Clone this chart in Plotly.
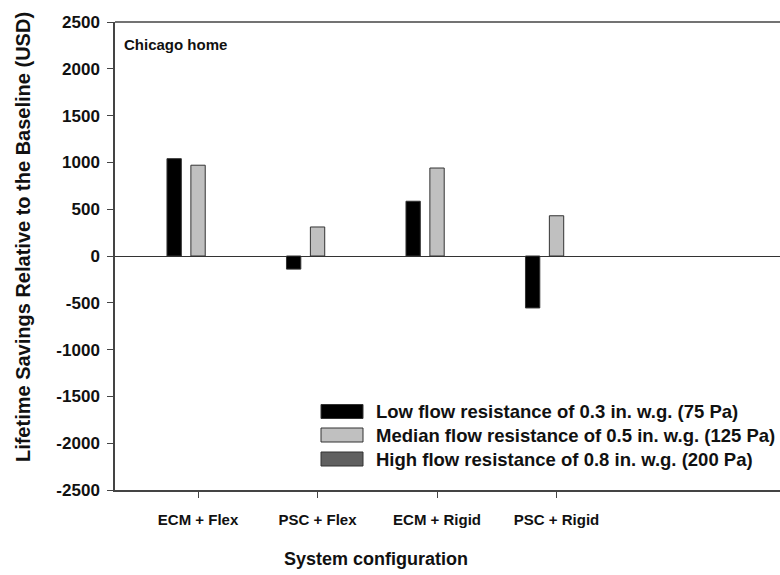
import plotly.graph_objects as go

configs = ["ECM + Flex", "PSC + Flex", "ECM + Rigid", "PSC + Rigid"]
low_res = [1040, -140, 585, -555]
median_res = [970, 310, 940, 430]
high_res = [None, None, None, None]

series_names = [
    "Low flow resistance of 0.3 in. w.g. (75 Pa)",
    "Median flow resistance of 0.5 in. w.g. (125 Pa)",
    "High flow resistance of 0.8 in. w.g. (200 Pa)",
]
series_colors = ["#000000", "#c0c0c0", "#606060"]
y_ticks = list(range(-2500, 2501, 500))
y_ticktext = [str(v) for v in y_ticks]

FONT = "Liberation Sans, Arial, sans-serif"

fig = go.Figure()
for name, vals, col in zip(series_names, [low_res, median_res, high_res], series_colors):
    fig.add_trace(go.Bar(
        x=configs, y=vals, name=name,
        marker=dict(color=col, line=dict(color="#333333", width=1)),
        showlegend=False,
    ))

fig.update_layout(
    width=780, height=575,
    margin=dict(l=115, r=0, t=22, b=85),
    paper_bgcolor="white", plot_bgcolor="white",
    barmode="group", bargap=0.4, bargroupgap=0.4,
    font=dict(family=FONT, color="#111111"),
    xaxis=dict(
        type="category", range=[-0.695, 4.87],
        showline=True, linecolor="#444444", linewidth=1.5,
        ticks="outside", ticklen=6, tickcolor="#444444", tickwidth=1.2,
        ticklabelstandoff=9,
        tickfont=dict(family=FONT, size=15, color="#111111", weight="bold"),
        showgrid=False,
    ),
    yaxis=dict(
        range=[-2500, 2500], tickvals=y_ticks, ticktext=y_ticktext,
        showline=True, linecolor="#444444", linewidth=1.5,
        ticks="outside", ticklen=6, tickcolor="#444444", tickwidth=1.2,
        ticklabelstandoff=4,
        tickfont=dict(family=FONT, size=17, color="#111111", weight="bold"),
        showgrid=False,
        zeroline=True, zerolinecolor="#333333", zerolinewidth=1,
    ),
)

# top frame line
fig.add_shape(type="line", xref="paper", yref="paper", x0=0, x1=1, y0=1, y1=1,
              line=dict(color="#444444", width=1.5))

# panel label
fig.add_annotation(text="Chicago home", xref="paper", yref="paper",
                   x=0.011, y=0.975, xanchor="left", yanchor="top", showarrow=False,
                   font=dict(family=FONT, size=15, color="#111111", weight="bold"))

# axis titles
fig.add_annotation(text="Lifetime Savings Relative to the Baseline (USD)",
                   xref="paper", yref="paper", x=-0.139, y=0.5395, textangle=-90,
                   xanchor="center", yanchor="middle", showarrow=False,
                   font=dict(family=FONT, size=20, color="#111111", weight="bold"))
fig.add_annotation(text="System configuration", xref="paper", yref="paper",
                   x=0.393, y=-0.148, xanchor="center", yanchor="middle", showarrow=False,
                   font=dict(family=FONT, size=18, color="#111111", weight="bold"))

# legend box
plot_h = 575 - 22 - 85
plot_w = 780 - 115
row_y = [411.5, 435, 459]
for name, col, yy in zip(series_names, series_colors, row_y):
    yc = 1 - (yy - 22) / plot_h
    hh = 7 / plot_h
    fig.add_shape(type="rect", xref="paper", yref="paper",
                  x0=(321 - 115) / plot_w, x1=(363 - 115) / plot_w,
                  y0=yc - hh, y1=yc + hh,
                  fillcolor=col, line=dict(color="#333333", width=1))
    fig.add_annotation(text=name, xref="paper", yref="paper",
                       x=(374 - 115) / plot_w, y=yc, xanchor="left", yanchor="middle",
                       showarrow=False,
                       font=dict(family=FONT, size=18.5, color="#111111", weight="bold"))

fig.write_html("out.html")
